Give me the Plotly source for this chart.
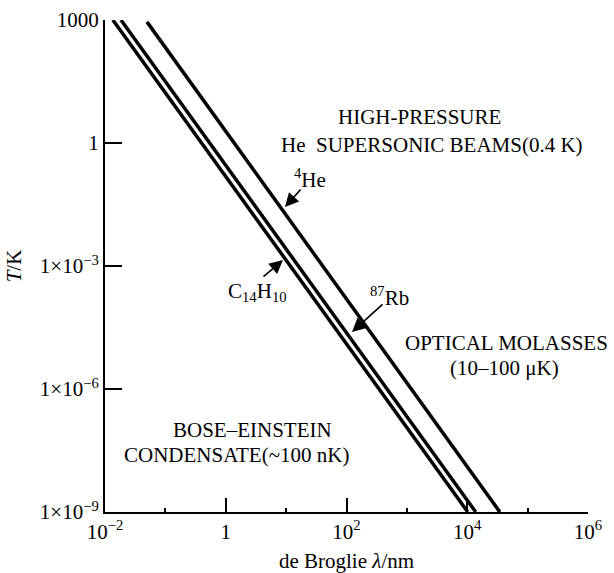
import plotly.graph_objects as go

# Data: de Broglie wavelength (nm) vs temperature (K)
species = ["C<sub>14</sub>H<sub>10</sub>", "<sup>87</sup>Rb", "<sup>4</sup>He"]
lam_c14h10 = [0.0135, 1.02e4]
T_c14h10 = [1000, 1e-9]
lam_rb87 = [0.0184, 1.38e4]
T_rb87 = [1000, 1e-9]
lam_he4 = [0.0495, 3.47e4]
T_he4 = [900, 1e-9]

x_tickvals = [1e-2, 1, 1e2, 1e4, 1e6]
x_ticktext = ["10<sup>−2</sup>", "1", "10<sup>2</sup>", "10<sup>4</sup>", "10<sup>6</sup>"]
y_tickvals = [1e3, 1, 1e-3, 1e-6, 1e-9]
y_ticktext = ["1000", "1", "1×10<sup>−3</sup>", "1×10<sup>−6</sup>", "1×10<sup>−9</sup>"]

FONT = "Liberation Serif"
FS = 21

fig = go.Figure()
for lam, T, name in [(lam_c14h10, T_c14h10, species[0]),
                     (lam_rb87, T_rb87, species[1]),
                     (lam_he4, T_he4, species[2])]:
    fig.add_trace(go.Scatter(x=lam, y=T, mode="lines", name=name,
                             line=dict(color="black", width=3.5),
                             showlegend=False, hoverinfo="skip"))

annos = []
def txt(x, y, t):
    annos.append(dict(x=x, y=y, xref="x", yref="y", text=t, showarrow=False,
                      xanchor="center", yanchor="middle",
                      font=dict(family=FONT, size=FS, color="black")))

def arrow(ax, ay, x, y):
    annos.append(dict(x=x, y=y, ax=ax, ay=ay, xref="x", yref="y", axref="x", ayref="y",
                      text="", showarrow=True, arrowhead=2, arrowsize=1.7,
                      arrowwidth=1.6, arrowcolor="black"))

txt(3.217, 0.634, "HIGH-PRESSURE")
txt(3.416, -0.049, "He  SUPERSONIC BEAMS(0.4 K)")
txt(1.395, -0.854, "<sup>4</sup>He")
arrow(1.263, -1.098, 0.981, -1.561)
txt(0.534, -3.634, "C<sub>14</sub>H<sub>10</sub>")
arrow(0.600, -3.293, 0.948, -2.854)
txt(2.720, -3.732, "<sup>87</sup>Rb")
arrow(2.621, -3.902, 2.091, -4.610)
txt(4.658, -4.878, "OPTICAL MOLASSES")
txt(4.625, -5.488, "(10–100 μK)")
txt(0.435, -7.0, "BOSE–EINSTEIN")
txt(0.186, -7.61, "CONDENSATE(~100 nK)")

fig.update_layout(
    width=614, height=573,
    margin=dict(l=105, r=26, t=20, b=61),
    paper_bgcolor="white", plot_bgcolor="white",
    font=dict(family=FONT, size=FS, color="black"),
    annotations=annos,
    xaxis=dict(type="log", range=[-2, 6], showgrid=False, zeroline=False,
               showline=True, linecolor="black", linewidth=2,
               ticks="inside", ticklen=14, tickwidth=2, tickcolor="black",
               tickvals=x_tickvals, ticktext=x_ticktext,
               tickfont=dict(family=FONT, size=FS),
               minor=dict(tickvals=[0.1, 10, 1e3, 1e5], ticks="inside", ticklen=4,
                          tickwidth=1.5, tickcolor="black"),
               title=dict(text="de Broglie <i>λ</i>/nm", standoff=10,
                          font=dict(family=FONT, size=FS)),
               automargin=False),
    yaxis=dict(type="log", range=[-9, 3], showgrid=False, zeroline=False,
               showline=True, linecolor="black", linewidth=2,
               ticks="inside", ticklen=17, tickwidth=2, tickcolor="black",
               tickvals=y_tickvals, ticktext=y_ticktext,
               tickfont=dict(family=FONT, size=FS),
               title=dict(text="<i>T</i>/K", standoff=12,
                          font=dict(family=FONT, size=FS)),
               automargin=False),
)

fig.write_html("out.html")
